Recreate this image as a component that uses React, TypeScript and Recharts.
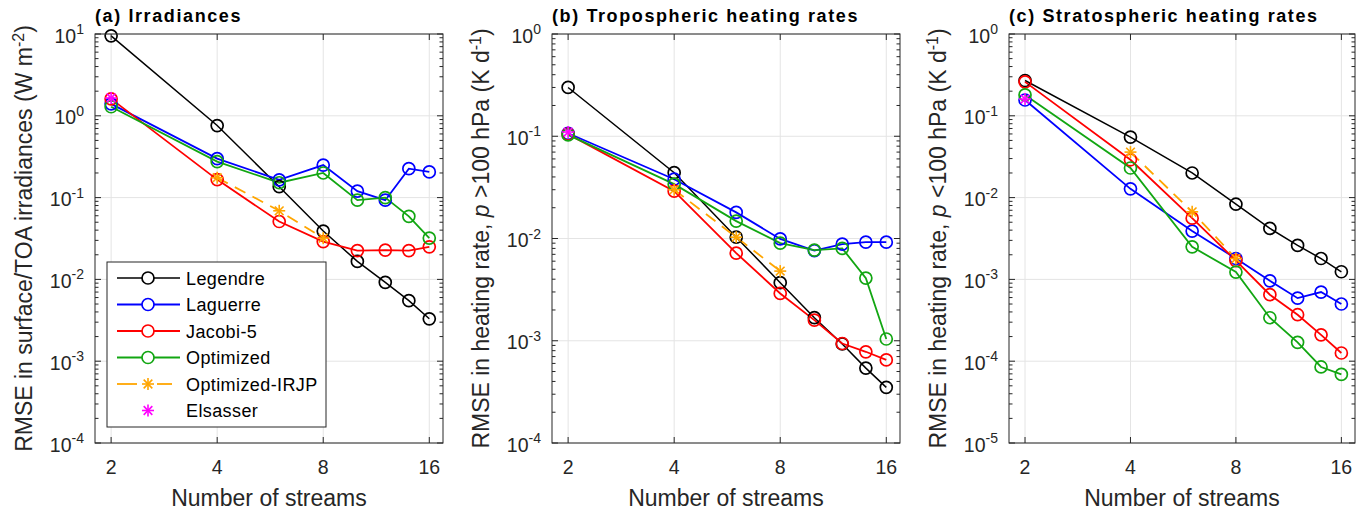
import { LineChart, Line, XAxis, YAxis, CartesianGrid } from 'recharts'

const W = 1368
const H = 511
const FONT = '"Liberation Sans", Arial, Helvetica, sans-serif'
const AX = '#262626'
const GRID = '#e4e4e4'

const streams = [2, 4, 6, 8, 10, 12, 14, 16]
const xTicks = [2, 4, 8, 16]

// (a) Irradiances, RMSE in W m-2
const irrLegendre = [9.5, 0.76, 0.136, 0.039, 0.0166, 0.0092, 0.0055, 0.0033]
const irrLaguerre = [1.4, 0.3, 0.165, 0.25, 0.12, 0.093, 0.226, 0.206]
const irrJacobi = [1.61, 0.166, 0.051, 0.029, 0.0225, 0.0228, 0.0225, 0.025]
const irrOptimized = [1.29, 0.275, 0.152, 0.2, 0.093, 0.1, 0.059, 0.032]
const irrIrjp = [null, 0.175, 0.069, 0.032, null, null, null, null]
const irrElsasser = [1.65, null, null, null, null, null, null, null]
const irrDecades = [1e-4, 1e-3, 1e-2, 1e-1, 1, 10]

// (b) Tropospheric heating rates, K/d
const tropLegendre = [0.3, 0.044, 0.0103, 0.0037, 0.00168, 0.00093, 0.00054, 0.00035]
const tropLaguerre = [0.107, 0.038, 0.018, 0.0099, 0.0076, 0.0088, 0.0092, 0.0092]
const tropJacobi = [0.105, 0.029, 0.0072, 0.0029, 0.00159, 0.00094, 0.00078, 0.00065]
const tropOptimized = [0.103, 0.034, 0.0148, 0.009, 0.0077, 0.008, 0.0041, 0.00104]
const tropIrjp = [null, 0.03, 0.0103, 0.0048, null, null, null, null]
const tropElsasser = [0.11, null, null, null, null, null, null, null]
const tropDecades = [1e-4, 1e-3, 1e-2, 1e-1, 1]

// (c) Stratospheric heating rates, K/d
const stratLegendre = [0.27, 0.055, 0.02, 0.0083, 0.0042, 0.0026, 0.0018, 0.00124]
const stratLaguerre = [0.156, 0.0128, 0.0039, 0.0018, 0.00096, 0.00059, 0.0007, 0.0005]
const stratJacobi = [0.26, 0.029, 0.0056, 0.0017, 0.00065, 0.00037, 0.00021, 0.000126]
const stratOptimized = [0.18, 0.023, 0.0025, 0.00123, 0.00034, 0.00017, 0.000085, 0.000069]
const stratIrjp = [null, 0.036, 0.0067, 0.0018, null, null, null, null]
const stratElsasser = [0.16, null, null, null, null, null, null, null]
const stratDecades = [1e-5, 1e-4, 1e-3, 1e-2, 1e-1, 1]

const legendNames = ['Legendre', 'Laguerre', 'Jacobi-5', 'Optimized', 'Optimized-IRJP', 'Elsasser']

const BLACK = '#000000'
const BLUE = '#0000ff'
const RED = '#ff0000'
const GREEN = '#12a612'
const ORANGE = '#ffa500'
const MAGENTA = '#ff00ff'

type Bounds = { left: number; right: number; top: number; bottom: number }
type Series = (number | null)[]

const boundsA: Bounds = { left: 95, right: 443, top: 34, bottom: 443 }
const boundsB: Bounds = { left: 552, right: 900, top: 34, bottom: 443 }
const boundsC: Bounds = { left: 1009, right: 1355, top: 34, bottom: 443 }

const withMinors = (decades: number[]) =>
  decades
    .slice(0, -1)
    .flatMap((d) => [1, 2, 3, 4, 5, 6, 7, 8, 9].map((k) => k * d))
    .concat(decades[decades.length - 1])

function Star({ cx, cy, color, r = 6 }: { cx: number; cy: number; color: string; r?: number }) {
  const d = r * 0.72
  return (
    <g stroke={color} strokeWidth={1.6}>
      <line x1={cx - r} x2={cx + r} y1={cy} y2={cy} />
      <line x1={cx} x2={cx} y1={cy - r} y2={cy + r} />
      <line x1={cx - d} x2={cx + d} y1={cy - d} y2={cy + d} />
      <line x1={cx - d} x2={cx + d} y1={cy + d} y2={cy - d} />
    </g>
  )
}

const circleDot = (color: string) => (p: any) =>
  p.cy == null || p.value == null ? (
    <g key={`c-${p.index}`} />
  ) : (
    <circle key={`c-${p.index}`} cx={p.cx} cy={p.cy} r={6} fill="none" stroke={color} strokeWidth={1.7} />
  )

const starDot = (color: string) => (p: any) =>
  p.cy == null || p.value == null ? (
    <g key={`s-${p.index}`} />
  ) : (
    <g key={`s-${p.index}`}>
      <Star cx={p.cx} cy={p.cy} color={color} />
    </g>
  )

function makeYTick(b: Bounds, majors: number[]) {
  return (p: any) => {
    const v = p.payload.value
    const y = p.y
    const major = majors.includes(v)
    const len = major ? 6 : 3.5
    const exp = Math.round(Math.log10(v))
    return (
      <g key={`yt-${p.index}`}>
        <line x1={b.left} x2={b.left + len} y1={y} y2={y} stroke={AX} strokeWidth={1} />
        <line x1={b.right} x2={b.right - len} y1={y} y2={y} stroke={AX} strokeWidth={1} />
        {major && (
          <text x={b.left - 11} y={y + 8.5} textAnchor="end" fontSize={19.5} fill={AX} fontFamily={FONT}>
            10
            <tspan dy={-8.5} fontSize={14}>
              {exp}
            </tspan>
          </text>
        )}
      </g>
    )
  }
}

function makeXTick(b: Bounds) {
  return (p: any) => (
    <g key={`xt-${p.index}`}>
      <line x1={p.x} x2={p.x} y1={b.bottom} y2={b.bottom - 6} stroke={AX} />
      <line x1={p.x} x2={p.x} y1={b.top} y2={b.top + 6} stroke={AX} />
      <text x={p.x} y={b.bottom + 31} textAnchor="middle" fontSize={19.5} fill={AX} fontFamily={FONT}>
        {p.payload.value}
      </text>
    </g>
  )
}

function Panel({
  b,
  decades,
  legendre,
  laguerre,
  jacobi,
  optimized,
  irjp,
  elsasser,
}: {
  b: Bounds
  decades: number[]
  legendre: Series
  laguerre: Series
  jacobi: Series
  optimized: Series
  irjp: Series
  elsasser: Series
}) {
  const rows = streams.map((n, i) => ({
    n,
    legendre: legendre[i],
    laguerre: laguerre[i],
    jacobi: jacobi[i],
    optimized: optimized[i],
    irjp: irjp[i],
    elsasser: elsasser[i],
  }))
  return (
    <div style={{ position: 'absolute', left: 0, top: 0 }}>
      <LineChart
        width={W}
        height={H}
        data={rows}
        margin={{ top: b.top, bottom: H - b.bottom - 40, left: b.left - 60, right: W - b.right }}
      >
        <CartesianGrid stroke={GRID} horizontalValues={decades} verticalValues={xTicks} />
        <XAxis
          dataKey="n"
          type="number"
          scale="log"
          domain={[1.8, 17.5]}
          ticks={xTicks}
          interval={0}
          height={40}
          axisLine={false}
          tickLine={false}
          tick={makeXTick(b)}
        />
        <YAxis
          type="number"
          scale="log"
          domain={[decades[0], decades[decades.length - 1]]}
          ticks={withMinors(decades)}
          interval={0}
          width={60}
          axisLine={false}
          tickLine={false}
          tick={makeYTick(b, decades)}
        />
        <Line dataKey="legendre" stroke={BLACK} strokeWidth={1.5} dot={circleDot(BLACK)} isAnimationActive={false} />
        <Line dataKey="laguerre" stroke={BLUE} strokeWidth={1.8} dot={circleDot(BLUE)} isAnimationActive={false} />
        <Line dataKey="jacobi" stroke={RED} strokeWidth={1.8} dot={circleDot(RED)} isAnimationActive={false} />
        <Line dataKey="optimized" stroke={GREEN} strokeWidth={1.8} dot={circleDot(GREEN)} isAnimationActive={false} />
        <Line
          dataKey="irjp"
          stroke={ORANGE}
          strokeWidth={1.8}
          strokeDasharray="12 8"
          dot={starDot(ORANGE)}
          isAnimationActive={false}
        />
        <Line dataKey="elsasser" stroke="none" dot={starDot(MAGENTA)} isAnimationActive={false} />
      </LineChart>
    </div>
  )
}

function YTitle({ b, children }: { b: Bounds; children: any }) {
  const cy = (b.top + b.bottom) / 2
  return (
    <text
      transform={`translate(${b.left - 63},${cy}) rotate(-90)`}
      textAnchor="middle"
      fontSize={23}
      fill={AX}
      fontFamily={FONT}
    >
      {children}
    </text>
  )
}

function Title({ b, text }: { b: Bounds; text: string }) {
  return (
    <text x={b.left} y={22} fontSize={18} fontWeight="bold" letterSpacing={1.6} fill="#000" fontFamily={FONT}>
      {text}
    </text>
  )
}

function XTitle({ b }: { b: Bounds }) {
  return (
    <text x={(b.left + b.right) / 2} y={506} textAnchor="middle" fontSize={23} fill={AX} fontFamily={FONT}>
      Number of streams
    </text>
  )
}

function LegendBox() {
  const x0 = 107
  const y0 = 262
  const rowY = (i: number) => 278 + i * 26.5
  const colors = [BLACK, BLUE, RED, GREEN]
  return (
    <g fontFamily={FONT}>
      <rect x={x0} y={y0} width={219} height={165} fill="#fff" stroke={AX} strokeWidth={1} />
      {colors.map((c, i) => (
        <g key={legendNames[i]}>
          <line x1={117} x2={180} y1={rowY(i)} y2={rowY(i)} stroke={c} strokeWidth={i === 0 ? 1.5 : 1.8} />
          <circle cx={148} cy={rowY(i)} r={6} fill="#fff" stroke={c} strokeWidth={1.7} />
        </g>
      ))}
      <line x1={117} x2={137} y1={rowY(4)} y2={rowY(4)} stroke={ORANGE} strokeWidth={1.8} />
      <line x1={157} x2={172} y1={rowY(4)} y2={rowY(4)} stroke={ORANGE} strokeWidth={1.8} />
      <Star cx={148} cy={rowY(4)} color={ORANGE} />
      <Star cx={148} cy={rowY(5)} color={MAGENTA} />
      {legendNames.map((n, i) => (
        <text key={n} x={186} y={rowY(i) + 6.5} fontSize={18} letterSpacing={0.4} fill="#000">
          {n}
        </text>
      ))}
    </g>
  )
}

export default function App() {
  const all = [boundsA, boundsB, boundsC]
  return (
    <div style={{ position: 'relative', width: W, height: H, background: '#fff', overflow: 'hidden' }}>
      <style>{'body{margin:0}'}</style>
      <Panel
        b={boundsA}
        decades={irrDecades}
        legendre={irrLegendre}
        laguerre={irrLaguerre}
        jacobi={irrJacobi}
        optimized={irrOptimized}
        irjp={irrIrjp}
        elsasser={irrElsasser}
      />
      <Panel
        b={boundsB}
        decades={tropDecades}
        legendre={tropLegendre}
        laguerre={tropLaguerre}
        jacobi={tropJacobi}
        optimized={tropOptimized}
        irjp={tropIrjp}
        elsasser={tropElsasser}
      />
      <Panel
        b={boundsC}
        decades={stratDecades}
        legendre={stratLegendre}
        laguerre={stratLaguerre}
        jacobi={stratJacobi}
        optimized={stratOptimized}
        irjp={stratIrjp}
        elsasser={stratElsasser}
      />
      <svg width={W} height={H} style={{ position: 'absolute', left: 0, top: 0, pointerEvents: 'none' }}>
        {all.map((b, i) => (
          <rect
            key={i}
            x={b.left}
            y={b.top}
            width={b.right - b.left}
            height={b.bottom - b.top}
            fill="none"
            stroke={AX}
            strokeWidth={1}
          />
        ))}
        <Title b={boundsA} text="(a) Irradiances" />
        <Title b={boundsB} text="(b) Tropospheric heating rates" />
        <Title b={boundsC} text="(c) Stratospheric heating rates" />
        {all.map((b, i) => (
          <XTitle key={i} b={b} />
        ))}
        <YTitle b={boundsA}>
          RMSE in surface/TOA irradiances (W m
          <tspan dy={-8} fontSize={16}>
            -2
          </tspan>
          <tspan dy={8}>)</tspan>
        </YTitle>
        <YTitle b={boundsB}>
          RMSE in heating rate, <tspan fontStyle="italic">p</tspan> &gt;100 hPa (K d
          <tspan dy={-8} fontSize={16}>
            -1
          </tspan>
          <tspan dy={8}>)</tspan>
        </YTitle>
        <YTitle b={boundsC}>
          RMSE in heating rate, <tspan fontStyle="italic">p</tspan> &lt;100 hPa (K d
          <tspan dy={-8} fontSize={16}>
            -1
          </tspan>
          <tspan dy={8}>)</tspan>
        </YTitle>
        <LegendBox />
      </svg>
    </div>
  )
}
